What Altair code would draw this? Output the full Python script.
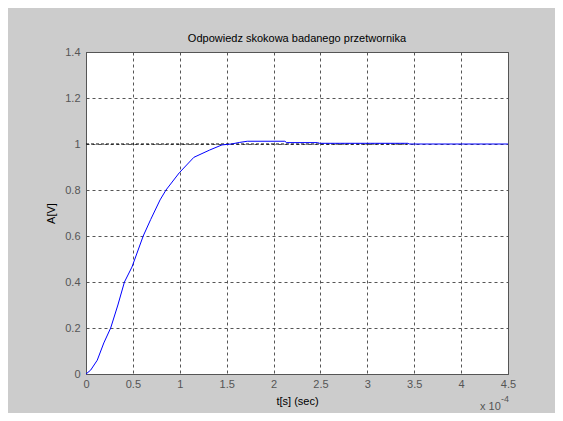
import altair as alt
import pandas as pd

# Step response samples (time in units of 1e-4 s)
t_vals = [0, 0.05, 0.12, 0.19, 0.263, 0.34, 0.41, 0.49, 0.61, 0.69, 0.79, 0.853,
          0.995, 1.15, 1.32, 1.45, 1.55, 1.64, 1.72, 2.12, 2.14, 2.47, 2.49,
          3.43, 3.45, 4.5]
a_vals = [0, 0.017, 0.06, 0.135, 0.2, 0.3, 0.4, 0.465, 0.6, 0.672, 0.757, 0.8,
          0.875, 0.942, 0.974, 0.996, 1.0, 1.007, 1.012, 1.012, 1.006, 1.006, 1.003,
          1.003, 1.0, 1.0]

# Reference (set value) dashed line
ref_t = [0, 3.43]
ref_a = [1, 1]

x_ticks = [0, 0.5, 1, 1.5, 2, 2.5, 3, 3.5, 4, 4.5]
y_ticks = [0, 0.2, 0.4, 0.6, 0.8, 1.0, 1.2, 1.4]

title_text = "Odpowiedz skokowa badanego przetwornika"
x_title = "t[s] (sec)"
y_title = "A[V]"
mult_base = ["x 10"]
mult_exp = ["-4"]

FONT = "Liberation Sans"
AX = "#555555"

resp = pd.DataFrame({"t": t_vals, "A": a_vals})
ref = pd.DataFrame({"t": ref_t, "A": ref_a})

xs = alt.Scale(domain=[0, 4.5], nice=False, zero=False)
ys = alt.Scale(domain=[0, 1.4], nice=False, zero=False)

x_axis = alt.Axis(values=x_ticks, format="~g", title=x_title, grid=True,
                  gridDash=[3, 3], gridColor=AX, gridOpacity=1,
                  domainColor=AX, ticks=False, labelPadding=4, labelFlush=False,
                  labelColor=AX, labelFont=FONT, labelFontSize=11,
                  titleFont=FONT, titleFontSize=11, titleFontWeight="normal",
                  titleColor="black", titlePadding=6)
y_axis = alt.Axis(values=y_ticks, format="~g", title=y_title, grid=True,
                  gridDash=[3, 3], gridColor=AX, gridOpacity=1,
                  domainColor=AX, ticks=False, labelPadding=6, labelFlush=False,
                  labelColor=AX, labelFont=FONT, labelFontSize=11,
                  titleFont=FONT, titleFontSize=11, titleFontWeight="normal",
                  titleColor="black", titlePadding=8)

ref_line = alt.Chart(ref).mark_line(color="black", strokeDash=[3, 2], strokeWidth=1).encode(
    x=alt.X("t:Q", scale=xs, axis=x_axis),
    y=alt.Y("A:Q", scale=ys, axis=y_axis),
)

resp_line = alt.Chart(resp).mark_line(color="#0000ff", strokeWidth=1).encode(
    x=alt.X("t:Q", scale=xs),
    y=alt.Y("A:Q", scale=ys),
)

base_txt = alt.Chart(pd.DataFrame({"label": mult_base})).mark_text(
    font=FONT, fontSize=11, color=AX, align="left", baseline="alphabetic"
).encode(x=alt.value(394), y=alt.value(358), text="label:N")

exp_txt = alt.Chart(pd.DataFrame({"label": mult_exp})).mark_text(
    font=FONT, fontSize=9, color=AX, align="left", baseline="alphabetic"
).encode(x=alt.value(415), y=alt.value(350), text="label:N")

chart = alt.layer(ref_line, resp_line, base_txt, exp_txt).properties(
    width=422,
    height=322,
    autosize=alt.AutoSizeParams(type="none"),
    padding={"left": 78, "top": 44, "right": 47, "bottom": 39},
    background="#cccccc",
    title=alt.TitleParams(title_text, font=FONT, fontSize=11, fontWeight="normal",
                          color="black", anchor="middle", offset=2),
).configure_view(fill="white", stroke=AX, strokeWidth=1)

chart.save("out.html", embed_options={"renderer": "svg", "actions": False})
